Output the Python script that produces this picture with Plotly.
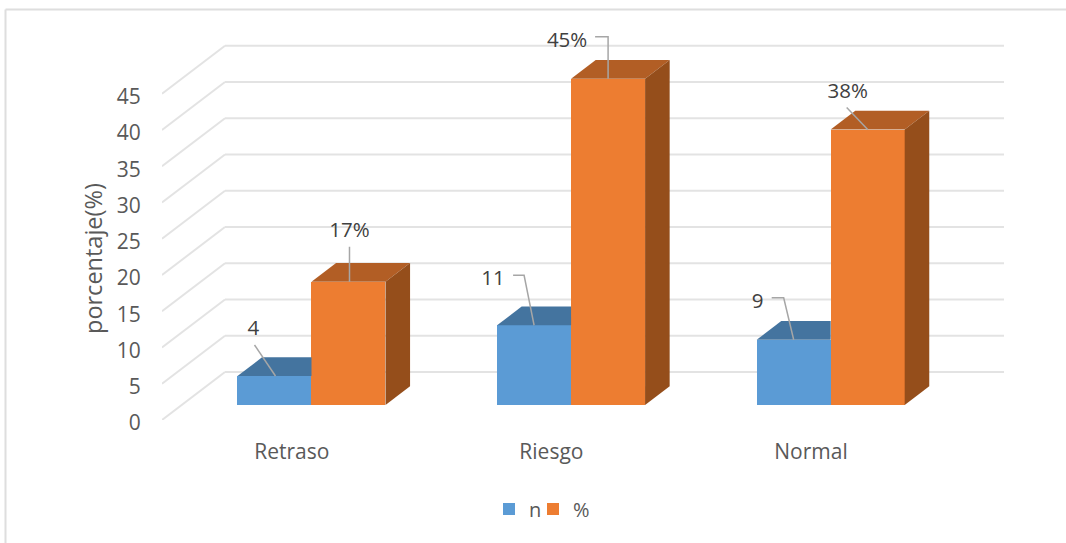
import plotly.graph_objects as go

# ---- data ----
categories = ["Retraso", "Riesgo", "Normal"]
n_values = [4, 11, 9]
pct_values = [17, 45, 38]
y_ticks = [0, 5, 10, 15, 20, 25, 30, 35, 40, 45]
series_names = ["n", "%"]

# ---- geometry of the oblique projection ----
W, H = 1066, 543
LEFT, RIGHT, TOP, BOTTOM = 162.0, 1004.0, 20.0, 420.0   # plot area, pixels
PX_PER_CAT = 259.6
PX_PER_UNIT = 7.25
DEPTH_PX = (63.0, 48.0)      # wall depth, pixels (right, up)
BAR_FRONT = 0.3125           # depth fraction of bar front
BAR_DEPTH = 0.39             # depth fraction of bar thickness
BAR_W = 74.0 / PX_PER_CAT

xr = [-0.5, -0.5 + (RIGHT - LEFT) / PX_PER_CAT]
yr = [0, (BOTTOM - TOP) / PX_PER_UNIT]


def dx(px):
    return px / PX_PER_CAT


def dy(px):
    return px / PX_PER_UNIT


wall_dx, wall_dy = dx(DEPTH_PX[0]), dy(DEPTH_PX[1])
front_dx, front_dy = BAR_FRONT * wall_dx, BAR_FRONT * wall_dy
depth_dx, depth_dy = BAR_DEPTH * wall_dx, BAR_DEPTH * wall_dy

BLUE, BLUE_TOP = "#5B9BD5", "#44749F"
ORANGE, ORANGE_TOP, ORANGE_SIDE = "#ED7D31", "#B25E25", "#954E1B"
GRID, FRAME, LEADER, LABEL, AXIS_TEXT = "#E3E3E3", "#DEDEDE", "#A6A6A6", "#404040", "#595959"
FONT = "Open Sans"

fig = go.Figure()

# front faces
pos = list(range(len(categories)))
x_n = [p + front_dx - BAR_W / 2 for p in pos]
x_p = [p + front_dx + BAR_W / 2 for p in pos]
fig.add_trace(go.Bar(name=series_names[0], x=x_n, y=n_values, base=front_dy, width=BAR_W,
                     legend="legend", marker=dict(color=BLUE, line=dict(width=0))))
fig.add_trace(go.Bar(name=series_names[1], x=x_p, y=pct_values, base=front_dy, width=BAR_W,
                     legend="legend2", marker=dict(color=ORANGE, line=dict(width=0))))


def face(xs, ys, color):
    fig.add_trace(go.Scatter(x=xs, y=ys, mode="lines", fill="toself", fillcolor=color,
                             line=dict(width=0, color=color), showlegend=False,
                             hoverinfo="skip"))


for xn, xp, vn, vp in zip(x_n, x_p, n_values, pct_values):
    # top of the n bar, hidden on the right by the % bar
    l, r = xn - BAR_W / 2, xn + BAR_W / 2
    t = vn + front_dy
    face([l, r, r, l + depth_dx, l], [t, t, t + depth_dy, t + depth_dy, t], BLUE_TOP)
    # top and side of the % bar
    l, r = xp - BAR_W / 2, xp + BAR_W / 2
    t = vp + front_dy
    face([l, r, r + depth_dx, l + depth_dx, l], [t, t, t + depth_dy, t + depth_dy, t], ORANGE_TOP)
    face([r, r + depth_dx, r + depth_dx, r, r],
         [t, t + depth_dy, front_dy + depth_dy, front_dy, t], ORANGE_SIDE)

# data labels and leader lines: offsets in pixels from the top centre of each bar front
n_leaders = [
    dict(path=[(1, 0), (-20, -31)], label=(-21, -46)),
    dict(path=[(0, 0), (-10, -50), (-21, -50)], label=(-41, -45)),
    dict(path=[(0, 0), (-10, -42), (-22, -42)], label=(-36, -37)),
]
pct_leaders = [
    dict(path=[(1, 0), (1, -35)], label=(1, -50)),
    dict(path=[(0, 0), (0, -42), (-13, -42)], label=(-41, -37)),
    dict(path=[(0, 0), (-21, -22)], label=(-20, -37)),
]

lab_x, lab_y, lab_t = [], [], []
for xs, vals, leaders, suffix in [(x_n, n_values, n_leaders, ""),
                                  (x_p, pct_values, pct_leaders, "%")]:
    for xc, v, lead in zip(xs, vals, leaders):
        yc = v + front_dy
        fig.add_trace(go.Scatter(
            x=[xc + dx(a) for a, _ in lead["path"]],
            y=[yc - dy(b) for _, b in lead["path"]],
            mode="lines", line=dict(color=LEADER, width=1.5),
            showlegend=False, hoverinfo="skip", cliponaxis=False))
        lab_x.append(xc + dx(lead["label"][0]))
        lab_y.append(yc - dy(lead["label"][1]))
        lab_t.append(f"{v}{suffix}")

fig.add_trace(go.Scatter(x=lab_x, y=lab_y, text=lab_t, mode="text", textposition="middle center",
                         textfont=dict(family=FONT, size=20.5, color=LABEL),
                         showlegend=False, hoverinfo="skip", cliponaxis=False))

# walls: gridlines drawn below the bars
shapes = []
for v in y_ticks:
    line = dict(color=GRID, width=2)
    shapes.append(dict(type="line", layer="below", xref="x", yref="y", x0=xr[0], y0=v,
                       x1=xr[0] + wall_dx, y1=v + wall_dy, line=line))
    shapes.append(dict(type="line", layer="below", xref="x", yref="y", x0=xr[0] + wall_dx,
                       y0=v + wall_dy, x1=xr[1], y1=v + wall_dy, line=line))

# outer frame (top and left edges only)
pw, ph = RIGHT - LEFT, BOTTOM - TOP
fx0, fx1 = (5.5 - LEFT) / pw, (W - LEFT) / pw
fy0, fy1 = 1 - (H - TOP) / ph, 1 - (9.5 - TOP) / ph
frame = dict(color=FRAME, width=2)
shapes.append(dict(type="line", xref="paper", yref="paper", x0=fx0, y0=fy1, x1=fx1, y1=fy1, line=frame))
shapes.append(dict(type="line", xref="paper", yref="paper", x0=fx0, y0=fy0, x1=fx0, y1=fy1, line=frame))

axis_title = dict(text="porcentaje(%)", textangle=-90, showarrow=False,
                  xref="paper", yref="paper", xanchor="center", yanchor="middle",
                  x=(93 - LEFT) / pw, y=1 - (259 - TOP) / ph,
                  font=dict(family=FONT, size=23.5, color=AXIS_TEXT))


def legend_at(swatch_px):
    return dict(orientation="v", x=(swatch_px - 15 - LEFT) / pw, xanchor="left",
                y=1 - (509 - TOP) / ph, yanchor="middle", indentation=-7,
                font=dict(family=FONT, size=20, color=AXIS_TEXT),
                bgcolor="rgba(0,0,0,0)")


fig.update_layout(
    width=W, height=H, autosize=False,
    margin=dict(l=LEFT, r=W - RIGHT, t=TOP, b=H - BOTTOM, pad=0),
    paper_bgcolor="white", plot_bgcolor="rgba(0,0,0,0)",
    barmode="overlay", bargap=0,
    shapes=shapes, annotations=[axis_title],
    font=dict(family=FONT, color=AXIS_TEXT),
    showlegend=True,
    legend=legend_at(511), legend2=legend_at(555),
    xaxis=dict(range=xr, tickmode="array", tickvals=pos, ticktext=categories,
               showgrid=False, zeroline=False, showline=False,
               ticks="outside", ticklen=13, tickcolor="rgba(0,0,0,0)",
               tickfont=dict(family=FONT, size=21, color=AXIS_TEXT), fixedrange=True),
    yaxis=dict(range=yr, tickmode="array", tickvals=y_ticks,
               showgrid=False, zeroline=False, showline=False,
               ticks="outside", ticklen=16, tickcolor="rgba(0,0,0,0)", ticklabelshift=3,
               tickfont=dict(family=FONT, size=21, color=AXIS_TEXT), fixedrange=True),
)

fig.write_html("out.html", config=dict(displayModeBar=False),
               post_script="document.body.style.margin='0';")
